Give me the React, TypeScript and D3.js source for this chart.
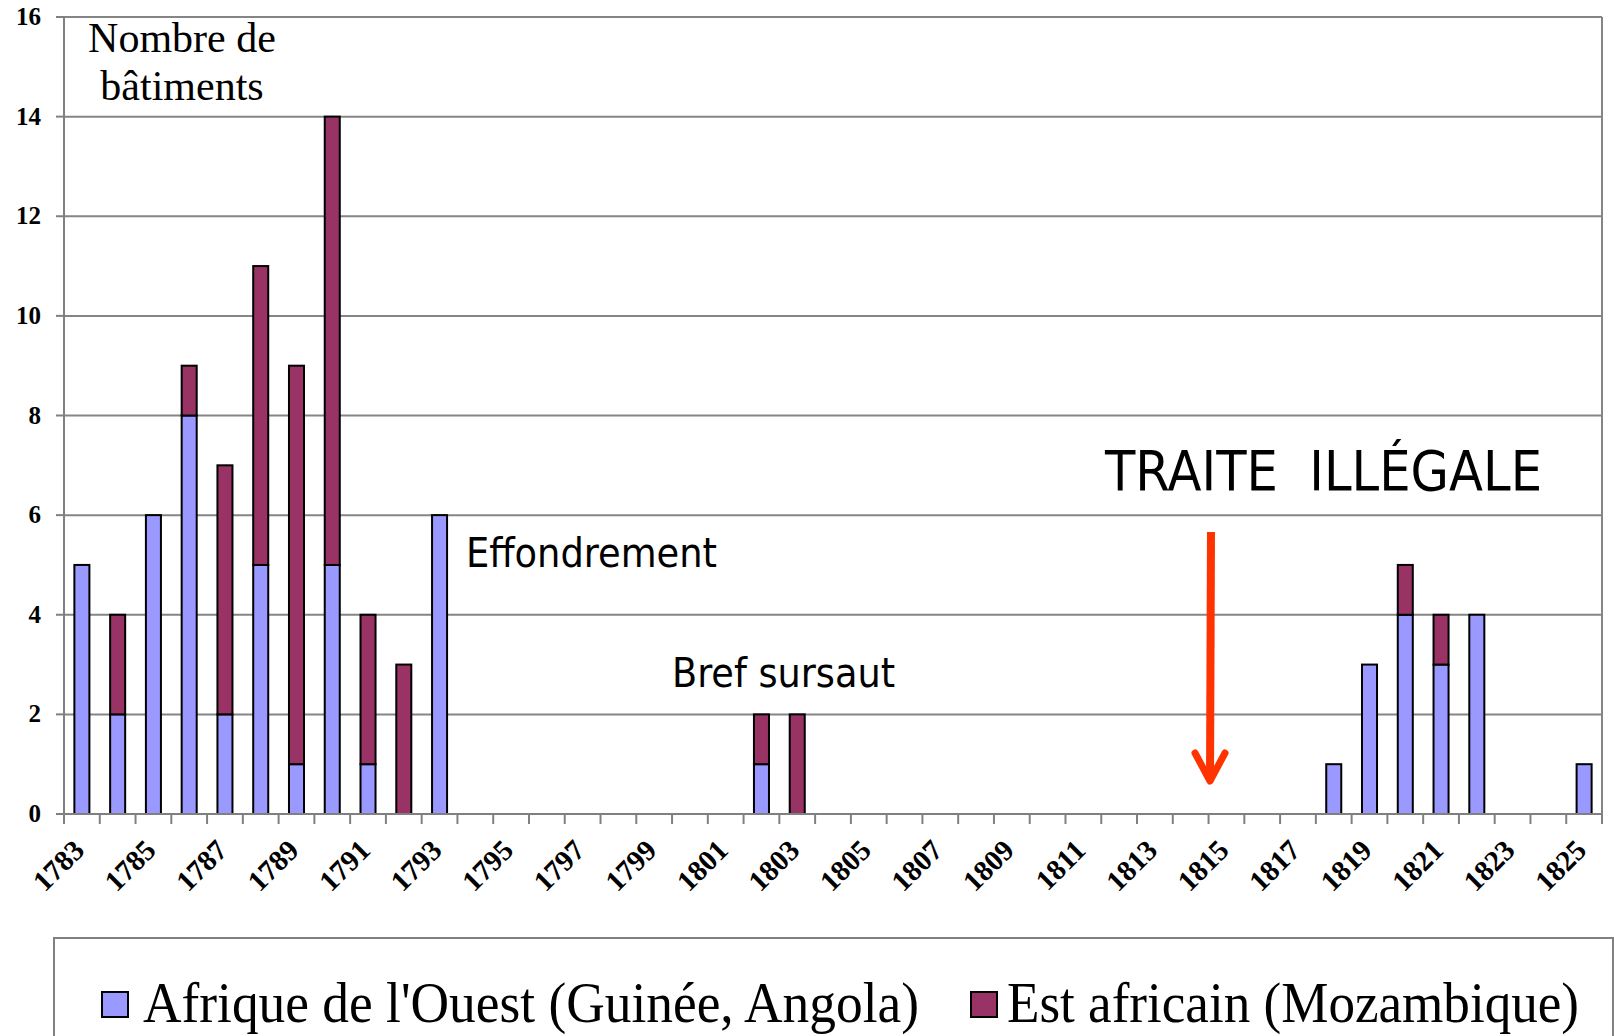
import { useEffect, useRef } from 'react';
import * as d3 from 'd3';

// Nombre de bâtiments par année et par zone de traite
const years = d3.range(1783, 1826).map(String);
const westValues = [5, 2, 6, 8, 2, 5, 1, 5, 1, 0, 6, 0, 0, 0, 0, 0, 0, 0, 0, 1, 0, 0, 0, 0, 0, 0, 0, 0, 0, 0, 0, 0, 0, 0, 0, 1, 3, 4, 3, 4, 0, 0, 1];
const eastValues = [0, 2, 0, 1, 5, 6, 8, 9, 3, 3, 0, 0, 0, 0, 0, 0, 0, 0, 0, 1, 2, 0, 0, 0, 0, 0, 0, 0, 0, 0, 0, 0, 0, 0, 0, 0, 0, 1, 1, 0, 0, 0, 0];
const yTicks = [0, 2, 4, 6, 8, 10, 12, 14, 16];
const seriesNames = ["Afrique de l'Ouest (Guinée, Angola)", 'Est africain (Mozambique)'];
const seriesColors = ['#9999ff', '#993366'];

const SERIF = '"Liberation Serif", "Times New Roman", serif';
const SANS = '"DejaVu Sans Condensed", "DejaVu Sans", sans-serif';

export default function App() {
  const svgRef = useRef<SVGSVGElement>(null);

  useEffect(() => {
    if (!svgRef.current) return;
    const svg = d3.select(svgRef.current);
    svg.selectAll('*').remove();

    const left = 64;
    const right = 1602;
    const top = 17;
    const bottom = 814;

    const x = d3
      .scaleBand<string>()
      .domain(years)
      .range([left, right])
      .paddingInner(0.58)
      .paddingOuter(0.29);
    const step = x.step();
    const y = d3.scaleLinear().domain([0, 16]).range([bottom, top]);

    // Grid lines
    svg
      .append('g')
      .selectAll('line')
      .data(yTicks.filter((d) => d > 0))
      .enter()
      .append('line')
      .attr('x1', left)
      .attr('x2', right)
      .attr('y1', (d) => y(d))
      .attr('y2', (d) => y(d))
      .style('stroke', '#858585')
      .style('stroke-width', '2px');

    // Right border
    svg
      .append('line')
      .attr('x1', right)
      .attr('x2', right)
      .attr('y1', top)
      .attr('y2', bottom)
      .style('stroke', '#858585')
      .style('stroke-width', '2px');

    // Y axis
    const yAxis = svg.append('g');
    yAxis
      .append('line')
      .attr('x1', left)
      .attr('x2', left)
      .attr('y1', top)
      .attr('y2', bottom)
      .style('stroke', '#808080')
      .style('stroke-width', '2px');
    yAxis
      .selectAll('.ytick')
      .data(yTicks)
      .enter()
      .append('line')
      .attr('x1', left - 8)
      .attr('x2', left)
      .attr('y1', (d) => y(d))
      .attr('y2', (d) => y(d))
      .style('stroke', '#808080')
      .style('stroke-width', '2px');
    yAxis
      .selectAll('text')
      .data(yTicks)
      .enter()
      .append('text')
      .attr('x', 41)
      .attr('y', (d) => y(d) + 8)
      .attr('text-anchor', 'end')
      .attr('textLength', (d) => String(d).length * 12.5)
      .attr('lengthAdjust', 'spacingAndGlyphs')
      .style('font-family', SERIF)
      .style('font-weight', 'bold')
      .style('font-size', '25px')
      .text((d) => String(d));

    // Stacked bars
    const table = years.map((yr, i) => ({ year: yr, west: westValues[i], east: eastValues[i] }));
    const stacked = d3.stack<any>().keys(['west', 'east'])(table);
    stacked.forEach((layer, k) => {
      svg
        .append('g')
        .selectAll('rect')
        .data(layer.filter((d) => d[1] - d[0] > 0))
        .enter()
        .append('rect')
        .attr('x', (d) => x(d.data.year) as number)
        .attr('width', x.bandwidth())
        .attr('y', (d) => y(d[1]))
        .attr('height', (d) => y(d[0]) - y(d[1]))
        .style('fill', seriesColors[k])
        .style('stroke', '#000')
        .style('stroke-width', '2px');
    });

    // X axis
    const xAxis = svg.append('g');
    xAxis
      .append('line')
      .attr('x1', left)
      .attr('x2', right)
      .attr('y1', bottom)
      .attr('y2', bottom)
      .style('stroke', '#808080')
      .style('stroke-width', '2px');
    xAxis
      .selectAll('.xtick')
      .data(d3.range(years.length + 1))
      .enter()
      .append('line')
      .attr('x1', (i) => left + i * step)
      .attr('x2', (i) => left + i * step)
      .attr('y1', bottom)
      .attr('y2', bottom + 10)
      .style('stroke', '#808080')
      .style('stroke-width', '2px');
    xAxis
      .selectAll('text')
      .data(years.filter((_d, i) => i % 2 === 0))
      .enter()
      .append('text')
      .attr('text-anchor', 'end')
      .attr(
        'transform',
        (d) => `translate(${(x(d) as number) + x.bandwidth() / 2 + 4}, ${bottom + 38}) rotate(-45)`
      )
      .style('font-family', SERIF)
      .style('font-weight', 'bold')
      .style('font-size', '29px')
      .text((d) => d);

    // Axis title
    const title = svg
      .append('text')
      .attr('text-anchor', 'middle')
      .style('font-family', SERIF)
      .style('font-size', '42px');
    title.append('tspan').attr('x', 182).attr('y', 52).text('Nombre de');
    title.append('tspan').attr('x', 182).attr('y', 100).text('bâtiments');

    // Annotations
    const notes = [
      { text: 'Effondrement', x: 466, y: 567, size: 41, len: 251 },
      { text: 'Bref sursaut', x: 672, y: 687, size: 41, len: 223 },
      { text: 'TRAITE  ILLÉGALE', x: 1105, y: 490, size: 55, len: 437 },
    ];
    svg
      .selectAll('.note')
      .data(notes)
      .enter()
      .append('text')
      .attr('x', (d) => d.x)
      .attr('y', (d) => d.y)
      .attr('textLength', (d) => d.len)
      .attr('lengthAdjust', 'spacingAndGlyphs')
      .style('font-family', SANS)
      .style('font-stretch', 'condensed')
      .style('font-size', (d) => `${d.size}px`)
      .style('white-space', 'pre')
      .text((d) => d.text);

    // Red arrow
    svg
      .append('line')
      .attr('x1', 1211)
      .attr('y1', 532)
      .attr('x2', 1210)
      .attr('y2', 780)
      .style('stroke', '#ff3300')
      .style('stroke-width', '8px');
    svg
      .append('polyline')
      .attr('points', '1195,753 1210,781 1225,753')
      .style('fill', 'none')
      .style('stroke', '#ff3300')
      .style('stroke-width', '7px')
      .style('stroke-linecap', 'round')
      .style('stroke-linejoin', 'round');

    // Legend
    const legend = svg.append('g');
    legend
      .append('rect')
      .attr('x', 54)
      .attr('y', 938)
      .attr('width', 1559)
      .attr('height', 200)
      .style('fill', '#fff')
      .style('stroke', '#808080')
      .style('stroke-width', '2px');
    const items = [
      { sx: 102, tx: 143, len: 776 },
      { sx: 971, tx: 1007, len: 572 },
    ];
    items.forEach((it, k) => {
      legend
        .append('rect')
        .attr('x', it.sx)
        .attr('y', 992)
        .attr('width', 26)
        .attr('height', 25)
        .style('fill', seriesColors[k])
        .style('stroke', '#000')
        .style('stroke-width', '2px');
      legend
        .append('text')
        .attr('x', it.tx)
        .attr('y', 1022)
        .attr('textLength', it.len)
        .attr('lengthAdjust', 'spacingAndGlyphs')
        .style('font-family', SERIF)
        .style('font-size', '57px')
        .text(seriesNames[k]);
    });
  }, []);

  return (
    <svg
      ref={svgRef}
      width={1614}
      height={1036}
      style={{ position: 'absolute', left: 0, top: 0, background: '#fff' }}
    />
  );
}
